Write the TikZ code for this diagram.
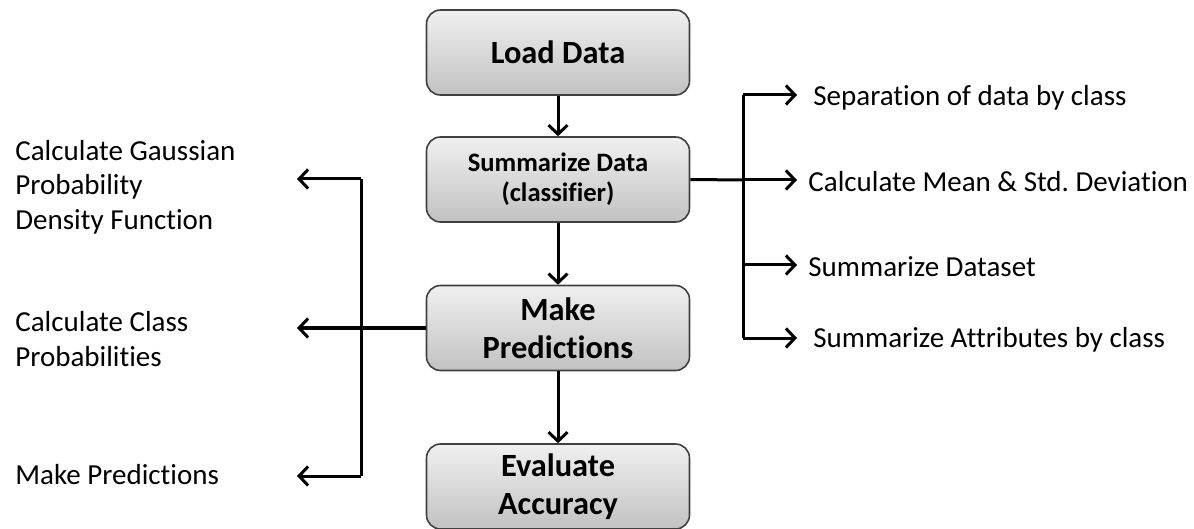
\documentclass[tikz,border=0pt]{standalone}
\usepackage{fontspec}
\setmainfont{Carlito}[Ligatures={NoCommon}]
\usetikzlibrary{arrows.meta}
\frenchspacing
\tikzset{
  box/.style={draw=black!75, line width=0.8pt, rounded corners=7pt,
    top color=black!6, bottom color=black!24,
    minimum width=131.5pt, minimum height=42.5pt, align=center,
    inner sep=0pt, font=\bfseries\fontsize{16.2}{19}\selectfont},
  smallbox/.style={box, font=\bfseries\fontsize{13.3}{15}\selectfont},
  arr/.style={line width=1.5pt, -{Straight Barb[length=4.5pt,width=9.5pt,line width=1.5pt]}},
  ln/.style={line width=1.5pt},
  lbl/.style={anchor=west, inner sep=0pt, align=left, font=\fontsize{14.5}{17.2}\selectfont},
}
\begin{document}
\begin{tikzpicture}[x=0.5pt,y=-0.5pt]
\useasboundingbox (0,0) rectangle (1194,529);
% main boxes
\node[box] (ld) at (558,52.5) {Load Data};
\node[smallbox] (sd) at (558,179.5) {Summarize Data\\(classifier)};
\node[box] (mp) at (558,328) {Make\\Predictions};
\node[box] (ea) at (558,486.5) {Evaluate\\Accuracy};
\draw[arr] (ld) -- (sd);
\draw[arr] (sd) -- (mp);
\draw[arr] (mp) -- (ea);
% left labels
\node[lbl] (gpdf) at (15,187) {Calculate Gaussian\\Probability\\Density Function};
\node[lbl] (ccp) at (15,339) {Calculate Class\\Probabilities};
\node[lbl] (mpl) at (15,475) {Make Predictions};
\coordinate (lt) at (361,179);
\coordinate (lb) at (361,476);
\coordinate (t1) at (297,179);
\coordinate (t2) at (297,328);
\coordinate (t3) at (297,476);
\draw[ln] (lt) -- (lb);
\draw[arr] (lt) -- (t1);
\draw[arr] (mp.west) -- (t2);
\draw[arr] (lb) -- (t3);
% right labels
\node[lbl] (r1) at (813,98) {Separation of data by class};
\node[lbl] (r2) at (808,182) {Calculate Mean \& Std. Deviation};
\node[lbl] (r3) at (808,267) {Summarize Dataset};
\node[lbl] (r4) at (813,340) {Summarize Attributes by class};
\coordinate (rt) at (743,95);
\coordinate (rm) at (743,180);
\coordinate (r3j) at (743,265);
\coordinate (rb) at (743,338);
\coordinate (a1) at (797,95);
\coordinate (a2) at (797,180);
\coordinate (a3) at (797,265);
\coordinate (a4) at (797,338);
\draw[ln] (rt) -- (rb);
\draw[ln] (sd.east) -- (rm);
\draw[arr] (rt) -- (a1);
\draw[arr] (rm) -- (a2);
\draw[arr] (r3j) -- (a3);
\draw[arr] (rb) -- (a4);
\end{tikzpicture}
\end{document}
